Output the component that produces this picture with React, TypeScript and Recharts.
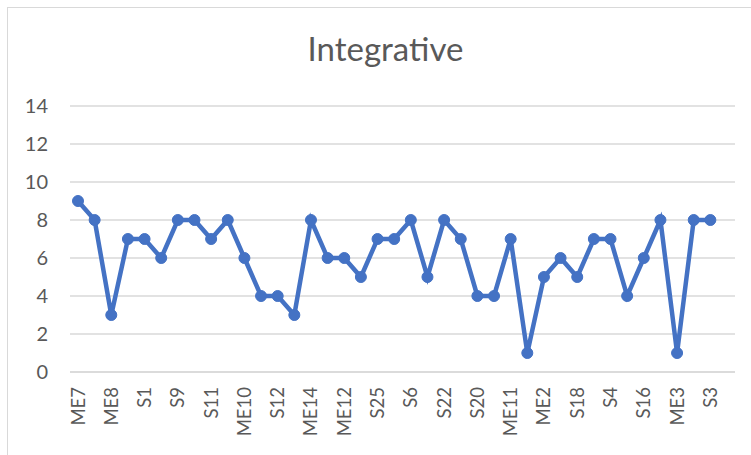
import React from "react";
import { LineChart, Line, XAxis, YAxis, CartesianGrid } from "recharts";

// Participant codes in plotted order (last slot is an empty trailing category)
const codes: string[] = [
  "ME7", "S2", "ME8", "S5", "S1", "ME1", "S9", "S7", "S11", "ME4",
  "ME10", "S8", "S12", "S10", "ME14", "S13", "ME12", "ME5", "S25", "S14",
  "S6", "S15", "S22", "ME6", "S20", "S17", "ME11", "S19", "ME2", "ME9",
  "S18", "S21", "S4", "S23", "S16", "ME13", "ME3", "S24", "S3", "",
];

// Integrative scores per participant
const scores: (number | null)[] = [
  9, 8, 3, 7, 7, 6, 8, 8, 7, 8,
  6, 4, 4, 3, 8, 6, 6, 5, 7, 7,
  8, 5, 8, 7, 4, 4, 7, 1, 5, 6,
  5, 7, 7, 4, 6, 8, 1, 8, 8, null,
];

const yTicks: number[] = [0, 2, 4, 6, 8, 10, 12, 14];

const data = codes.map((code, i) => ({ code, score: scores[i] }));

const FONT = "Lato, 'Open Sans', sans-serif";
const TEXT = "#595959";
const BLUE = "#4472C4";

const XTick = (props: any) => {
  const { x, y, payload } = props;
  return (
    <g transform={`translate(${x},${y})`}>
      <text
        transform="rotate(-90)"
        x={0}
        y={0}
        dy={6.5}
        textAnchor="end"
        fill={TEXT}
        fontSize={18.5}
        fontFamily={FONT}
      >
        {payload.value}
      </text>
    </g>
  );
};

export default function App() {
  return (
    <div
      style={{
        position: "absolute",
        left: 0,
        top: 0,
        width: 751,
        height: 455,
        overflow: "hidden",
        background: "#ffffff",
      }}
    >
      <div
        style={{
          position: "absolute",
          left: 7,
          top: 7,
          width: 800,
          height: 500,
          border: "1px solid #d9d9d9",
          boxSizing: "border-box",
        }}
      />
      <div
        style={{
          position: "absolute",
          left: 0,
          width: 771,
          top: 29,
          textAlign: "center",
          fontFamily: FONT,
          fontSize: 33,
          color: TEXT,
          lineHeight: "38px",
        }}
      >
        Integrative
      </div>
      <LineChart
        width={751}
        height={455}
        data={data}
        margin={{ top: 106, right: 16, bottom: 23, left: 0 }}
        style={{ position: "absolute", left: 0, top: 0 }}
      >
        <CartesianGrid vertical={false} stroke="#d9d9d9" strokeWidth={1.5} />
        <XAxis
          dataKey="code"
          interval={1}
          tick={<XTick />}
          tickLine={false}
          axisLine={{ stroke: "#d9d9d9", strokeWidth: 1.5 }}
          padding={{ left: 8, right: 8 }}
          height={60}
          tickSize={0}
          tickMargin={15}
        />
        <YAxis
          domain={[0, 14]}
          ticks={yTicks}
          width={70}
          axisLine={false}
          tickLine={false}
          tickSize={0}
          tickMargin={22}
          tick={{ fill: TEXT, fontSize: 20, fontFamily: FONT }}
        />
        <Line
          type="linear"
          dataKey="score"
          stroke={BLUE}
          strokeWidth={4.5}
          dot={{ r: 5.5, fill: BLUE, stroke: BLUE, strokeWidth: 1 }}
          isAnimationActive={false}
          connectNulls={false}
        />
      </LineChart>
    </div>
  );
}
